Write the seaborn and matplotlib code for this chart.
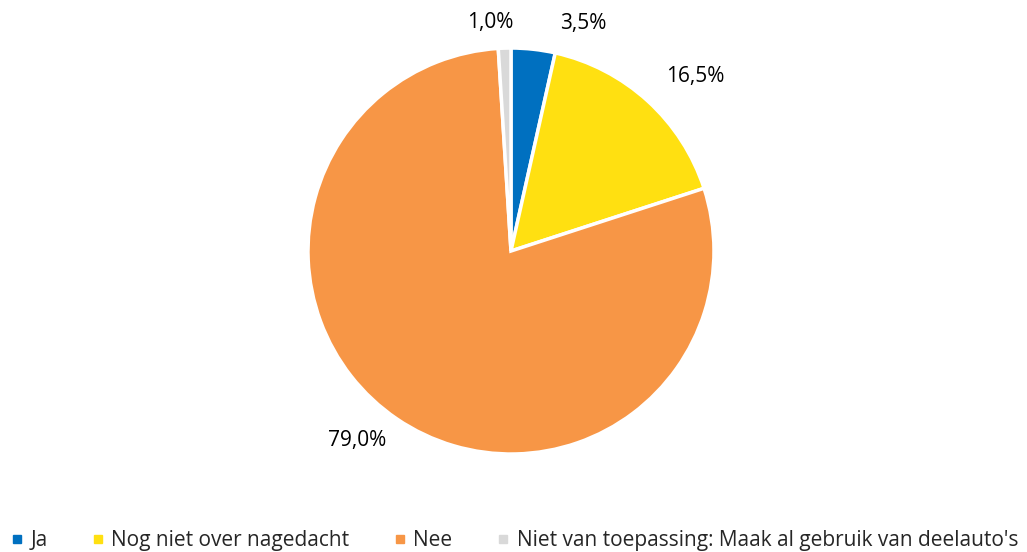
import numpy as np
import seaborn as sns
import matplotlib.pyplot as plt
from matplotlib.lines import Line2D

sns.set_style("white")
plt.rcParams["font.family"] = ["Open Sans", "DejaVu Sans"]

categories = ["Ja", "Nog niet over nagedacht", "Nee",
              "Niet van toepassing: Maak al gebruik van deelauto's"]
shares = [3.5, 16.5, 79.0, 1.0]
value_labels = ["3,5%", "16,5%", "79,0%", "1,0%"]
colors = ["#0070C0", "#FFE011", "#F79646", "#D9D9D9"]

# label anchors (data units, pie radius = 1), Excel-style outside labels
label_pos = [(0.355, 1.12), (0.91, 0.86), (-0.76, -0.935), (-0.10, 1.125)]

DPI = 100
fig = plt.figure(figsize=(10.27, 5.52), dpi=DPI)
ax = fig.add_axes([0.2999, 0.1775, 0.3953, 0.7355])

ax.pie(shares, colors=colors, startangle=90, counterclock=False,
       radius=1, wedgeprops=dict(edgecolor="white", linewidth=2.5))
ax.set_xlim(-1, 1)
ax.set_ylim(-1, 1)
ax.set_aspect("equal")
ax.axis("off")

for txt, (x, y) in zip(value_labels, label_pos):
    ax.text(x, y, txt, ha="center", va="center", fontsize=15, color="#000000")

handles = [Line2D([0], [0], marker="s", linestyle="", markersize=6,
                  markerfacecolor=c, markeredgecolor=c) for c in colors]
fig.legend(handles, categories, loc="center left", bbox_to_anchor=(0.002, 0.02),
           ncol=4, frameon=False, fontsize=15, handlelength=0.6,
           handletextpad=0.35, columnspacing=2.12, borderaxespad=0)

fig.savefig("out.png", dpi=DPI)
